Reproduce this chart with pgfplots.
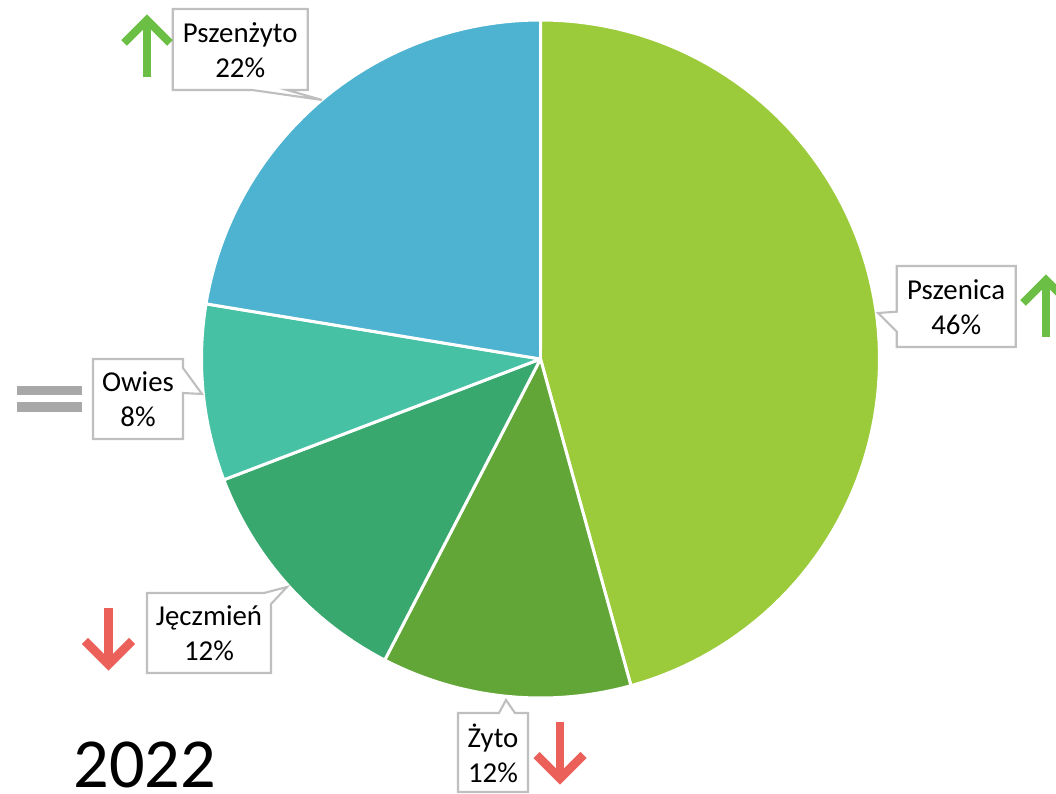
\documentclass[border=0pt]{standalone}
\usepackage{pgfplots}
\pgfplotsset{compat=1.18}
\usepackage{fontspec}
\setmainfont{Carlito}
\definecolor{cPszenica}{HTML}{9BCB3B}
\definecolor{cZyto}{HTML}{62A637}
\definecolor{cJeczmien}{HTML}{38A86F}
\definecolor{cOwies}{HTML}{46C1A3}
\definecolor{cPszenzyto}{HTML}{4EB3D1}
\definecolor{boxgray}{HTML}{BFBFBF}
\definecolor{upgreen}{HTML}{6CBF45}
\definecolor{downred}{HTML}{EC605A}
\definecolor{eqgray}{HTML}{A8A8A8}
\begin{document}
\begin{tikzpicture}
% shares (percent)
\def\vA{45.7}% Pszenica
\def\vB{11.9}% Zyto
\def\vC{11.6}% Jeczmien
\def\vD{8.4}%  Owies
\def\vE{22.4}% Pszenzyto
\pgfmathsetmacro\aA{90}
\pgfmathsetmacro\aB{\aA-3.6*\vA}
\pgfmathsetmacro\aC{\aB-3.6*\vB}
\pgfmathsetmacro\aD{\aC-3.6*\vC}
\pgfmathsetmacro\aE{\aD-3.6*\vD}
\pgfmathsetmacro\aF{\aE-3.6*\vE}
\def\cx{540.5}\def\cy{359}\def\R{339}
\begin{axis}[at={(0,0)},anchor=south west,width=10.56cm,height=7.94cm,scale only axis,
  xmin=0,xmax=1056,ymin=0,ymax=794,y dir=reverse,hide axis,clip=false]
\addplot[fill=cPszenica,draw=white,line width=0.85pt,line join=round,no markers,domain=\aB:\aA,samples=90] ({\cx+\R*cos(x)},{\cy-\R*sin(x)}) -- (axis cs:\cx,\cy) -- cycle;
\addplot[fill=cZyto,draw=white,line width=0.85pt,line join=round,no markers,domain=\aC:\aB,samples=30] ({\cx+\R*cos(x)},{\cy-\R*sin(x)}) -- (axis cs:\cx,\cy) -- cycle;
\addplot[fill=cJeczmien,draw=white,line width=0.85pt,line join=round,no markers,domain=\aD:\aC,samples=30] ({\cx+\R*cos(x)},{\cy-\R*sin(x)}) -- (axis cs:\cx,\cy) -- cycle;
\addplot[fill=cOwies,draw=white,line width=0.85pt,line join=round,no markers,domain=\aE:\aD,samples=25] ({\cx+\R*cos(x)},{\cy-\R*sin(x)}) -- (axis cs:\cx,\cy) -- cycle;
\addplot[fill=cPszenzyto,draw=white,line width=0.85pt,line join=round,no markers,domain=\aF:\aE,samples=50] ({\cx+\R*cos(x)},{\cy-\R*sin(x)}) -- (axis cs:\cx,\cy) -- cycle;
% callouts
\draw[boxgray,line width=0.6pt,fill=white] (axis cs:172.7,9) -- (axis cs:307.7,9) -- (axis cs:307.7,90) -- (axis cs:287,90) -- (axis cs:322,100) -- (axis cs:252,90) -- (axis cs:172.7,90) -- cycle;
\node[align=center,font=\fontsize{8.2}{10}\selectfont] at (axis cs:240.2,50) {Pszenżyto\\22\%};
\draw[boxgray,line width=0.6pt,fill=white] (axis cs:896.7,266) -- (axis cs:1015.7,266) -- (axis cs:1015.7,347) -- (axis cs:896.7,347) -- (axis cs:896.7,331.7) -- (axis cs:878,313) -- (axis cs:896.7,311.7) -- cycle;
\node[align=center,font=\fontsize{8.2}{10}\selectfont] at (axis cs:956.2,307) {Pszenica\\46\%};
\draw[boxgray,line width=0.6pt,fill=white] (axis cs:93,359) -- (axis cs:183,359) -- (axis cs:183,368) -- (axis cs:202,394) -- (axis cs:183,393) -- (axis cs:183,439) -- (axis cs:93,439) -- cycle;
\node[align=center,font=\fontsize{8.2}{10}\selectfont] at (axis cs:138,399.5) {Owies\\8\%};
\draw[boxgray,line width=0.6pt,fill=white] (axis cs:147,593) -- (axis cs:264,593) -- (axis cs:287,587) -- (axis cs:271,604) -- (axis cs:271,673) -- (axis cs:147,673) -- cycle;
\node[align=center,font=\fontsize{8.2}{10}\selectfont] at (axis cs:209,633.5) {Jęczmień\\12\%};
\draw[boxgray,line width=0.6pt,fill=white] (axis cs:458,713) -- (axis cs:499,713) -- (axis cs:506,700) -- (axis cs:515,713) -- (axis cs:528,713) -- (axis cs:528,792) -- (axis cs:458,792) -- cycle;
\node[align=center,font=\fontsize{8.2}{10}\selectfont] at (axis cs:493,753) {Żyto\\12\%};
% trend markers
\draw[upgreen,line width=2.3pt] (axis cs:147,77) -- (axis cs:147,22);
\draw[upgreen,line width=2.3pt,line cap=butt,line join=miter] (axis cs:124,43) -- (axis cs:147,20) -- (axis cs:170,43);
\draw[upgreen,line width=2.3pt] (axis cs:1046,337) -- (axis cs:1046,282);
\draw[upgreen,line width=2.3pt,line cap=butt,line join=miter] (axis cs:1023,303) -- (axis cs:1046,280) -- (axis cs:1069,303);
\draw[downred,line width=2.5pt] (axis cs:108.5,608) -- (axis cs:108.5,662);
\draw[downred,line width=2.5pt,line cap=butt,line join=miter] (axis cs:85,641) -- (axis cs:108.5,664.5) -- (axis cs:132,641);
\draw[downred,line width=2.5pt] (axis cs:560,722) -- (axis cs:560,776);
\draw[downred,line width=2.5pt,line cap=butt,line join=miter] (axis cs:536.5,755) -- (axis cs:560,778.5) -- (axis cs:583.5,755);
\fill[eqgray] (axis cs:17,386) rectangle (axis cs:82,395);
\fill[eqgray] (axis cs:17,402) rectangle (axis cs:82,412);
\node[anchor=base west,inner sep=0pt,font=\fontsize{20}{24}\selectfont] at (axis cs:73,788) {2022};
\end{axis}
\pgfresetboundingbox
\path (0,0) rectangle (10.56cm,7.94cm);
\end{tikzpicture}
\end{document}
